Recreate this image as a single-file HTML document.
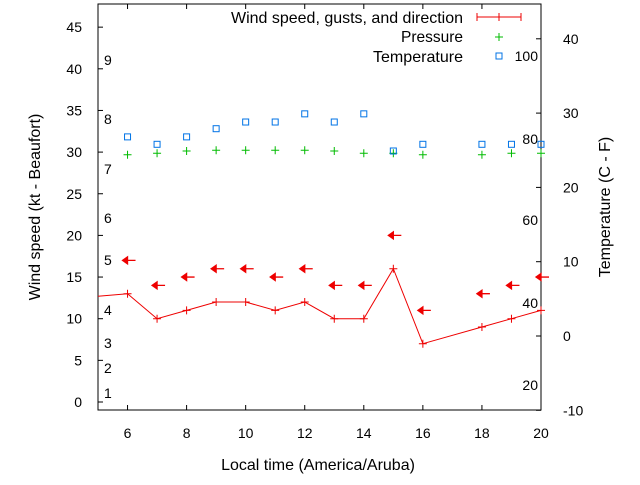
<!DOCTYPE html>
<html><head><meta charset="utf-8"><style>
body{margin:0;background:#fff}
text{font-family:"Liberation Sans",sans-serif;font-size:14px;fill:#000}
.big{font-size:16px}
</style></head><body>
<svg id="chart" width="640" height="480" viewBox="0 0 640 480" xmlns="http://www.w3.org/2000/svg">
<g id="axes"></g>
<g id="marks"></g>
<g id="legend">
<text class="big" x="231" y="23" textLength="232" lengthAdjust="spacingAndGlyphs">Wind speed, gusts, and direction</text>
<line x1="477" y1="17" x2="521" y2="17" stroke="#e00" stroke-width="1"/>
<line x1="477" y1="13" x2="477" y2="21" stroke="#e00"/>
<line x1="499" y1="13" x2="499" y2="21" stroke="#e00"/>
<line x1="521" y1="13" x2="521" y2="21" stroke="#e00"/>
<text class="big" x="401" y="42" textLength="62" lengthAdjust="spacingAndGlyphs">Pressure</text>
<path d="M495 37h8M499 33v8" stroke="#0b0" stroke-width="1"/>
<text class="big" x="373" y="62" textLength="90" lengthAdjust="spacingAndGlyphs">Temperature</text>
<rect x="496" y="53" width="6" height="6" fill="none" stroke="#0073e6"/>
</g>
</svg>
<script>
const hours=[6,7,8,9,10,11,12,13,14,15,16,18,19,20];
const windKt=[13,10,11,12,12,11,12,10,10,16,7,9,10,11];
const windStartKt=12.7;
const gustKt=[17,14,15,16,16,15,16,14,14,20,11,13,14,15];
const pressureC=[24.4,24.6,24.9,25.0,25.0,25.0,25.0,24.9,24.6,24.6,24.4,24.4,24.6,24.6];
const tempC=[26.8,25.8,26.8,27.9,28.8,28.8,29.9,28.8,29.9,24.9,25.8,25.8,25.8,25.8];
const xTicks=[6,8,10,12,14,16,18,20];
const yLeftTicks=[0,5,10,15,20,25,30,35,40,45];
const yRightTicks=[-10,0,10,20,30,40];
const beaufort=[[1,393],[2,368],[3,343],[4,310],[5,260],[6,218],[7,169],[8,119],[9,60]];
const fahrenheit=[[100,56],[80,139],[60,220],[40,303],[20,385]];

const L=98,R=541,T=4,B=410;
const X=h=>L+(h-5)*(R-L)/15;
const YL=v=>402-v*8.33;
const YR=v=>336-v*7.43;
const NS="http://www.w3.org/2000/svg";
const ax=document.getElementById('axes'),mk=document.getElementById('marks');
function el(p,tag,attrs){const e=document.createElementNS(NS,tag);for(const k in attrs)e.setAttribute(k,attrs[k]);p.appendChild(e);return e;}

const frame=el(ax,'rect',{x:L,y:T,width:R-L,height:B-T,fill:'none',stroke:'#000'});


xTicks.forEach(h=>{
  const x=X(h);
  const t=el(ax,'path',{d:`M${x} ${B}v-5M${x} ${T}v5`,stroke:'#000'});
  
  
  const l=el(ax,'text',{x:x,y:B+28,'text-anchor':'middle'});l.textContent=h;
  
  
});
yLeftTicks.forEach(v=>{
  const y=YL(v);
  const t=el(ax,'path',{d:`M${L} ${y}h5`,stroke:'#000'});
  
  
  const l=el(ax,'text',{x:L-16,y:y+5,'text-anchor':'end'});l.textContent=v;
  
  
});
yRightTicks.forEach(v=>{
  const y=YR(v);
  const t=el(ax,'path',{d:`M${R} ${y}h-5`,stroke:'#000'});
  
  
  const l=el(ax,'text',{x:R+22,y:y+5,'text-anchor':'start'});l.textContent=v;
  
  
});
beaufort.forEach(([n,y])=>{
  const l=el(ax,'text',{x:104,y:y+5});l.textContent=n;
  
  
});
fahrenheit.forEach(([n,y])=>{
  const l=el(ax,'text',{x:538,y:y+5,'text-anchor':'end'});l.textContent=n;
  
  
});
const xt=el(ax,'text',{x:318,y:470,'text-anchor':'middle','class':'big'});xt.textContent='Local time (America/Aruba)';


const yt=el(ax,'text',{x:40,y:207,'text-anchor':'middle','class':'big',transform:'rotate(-90 40 207)'});yt.textContent='Wind speed (kt - Beaufort)';


const yt2=el(ax,'text',{x:610,y:207,'text-anchor':'middle','class':'big',transform:'rotate(-90 610 207)'});yt2.textContent='Temperature (C - F)';



let d=`M${L} ${YL(windStartKt)}`;
hours.forEach((h,i)=>{d+=`L${X(h)} ${YL(windKt[i])}`;});
const wl=el(mk,'path',{d:d,fill:'none',stroke:'#e00','stroke-width':1});


hours.forEach((h,i)=>{
  const x=X(h),y=YL(windKt[i]);
  const p=el(mk,'path',{d:`M${x-4} ${y}h8M${x} ${y-4}v8`,stroke:'#e00'});
  
  
  const gy=YL(gustKt[i]);
  const a=el(mk,'path',{d:`M${x-5} ${gy}l5 -3.5v7z M${x} ${gy}h8`,fill:'#e00',stroke:'#e00','stroke-width':1.3});
  
  
  const py=YR(pressureC[i]);
  const pp=el(mk,'path',{d:`M${x-4} ${py}h8M${x} ${py-4}v8`,stroke:'#0b0'});
  
  
  const ty=YR(tempC[i]);
  const tp=el(mk,'rect',{x:x-3,y:ty-3,width:6,height:6,fill:'none',stroke:'#0073e6'});
  
  
});
</script>
</body></html>
